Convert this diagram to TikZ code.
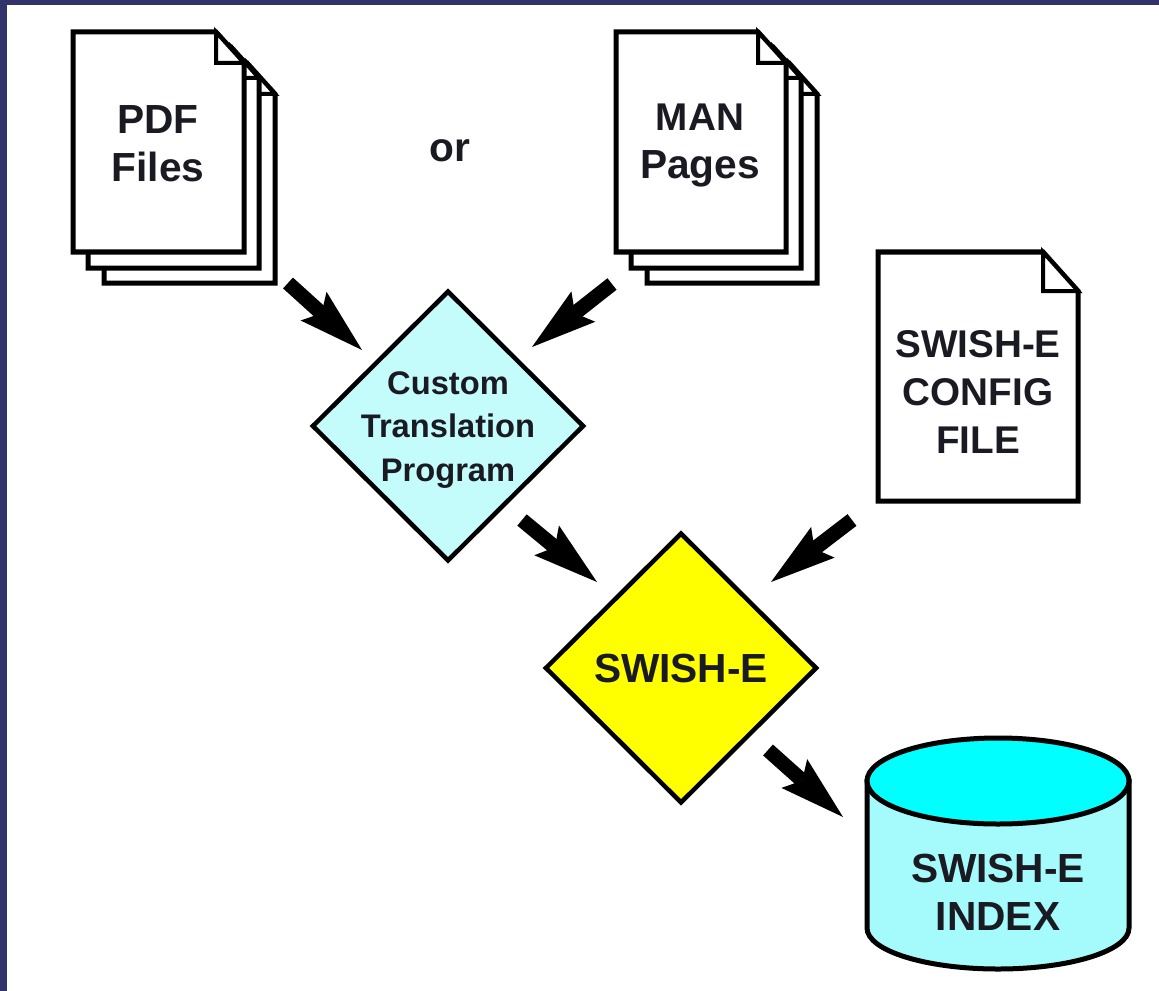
\documentclass[tikz,border=0pt]{standalone}
\usepackage{fontspec}
\setmainfont{Liberation Sans}
\usetikzlibrary{arrows.meta,shapes.geometric}
\definecolor{band}{HTML}{33336B}
\definecolor{ink}{HTML}{1A1A22}
\definecolor{paleblue}{HTML}{C4FBFB}
\definecolor{sw}{HTML}{FFFF00}
\definecolor{cylbody}{HTML}{A5FBFB}
\definecolor{cyltop}{HTML}{00FFFF}
\tikzset{
  outline/.style={draw=black,line width=3.75pt,line join=miter,fill=white},
  foldline/.style={draw=black,line width=3pt,fill=white},
  bigarrow/.style={line width=11pt,draw=black,-{Stealth[length=49pt,width=29pt,inset=8pt,line width=0pt]}},
  label/.style={font=\bfseries\fontsize{30.5}{36}\selectfont,text=ink,align=center,inner sep=0pt},
  cfglabel/.style={font=\bfseries\fontsize{29}{36}\selectfont,text=ink,align=center,inner sep=0pt},
  smalllabel/.style={font=\bfseries\fontsize{24.5}{32.5}\selectfont,text=ink,align=center,inner sep=0pt},
  decision/.style={shape=diamond,draw=black,line width=3.4pt,inner sep=0pt,minimum width=204pt,minimum height=203pt},
}
% page with folded corner: left, top, right, bottom, fold width, fold height
\newcommand{\docpage}[6]{%
  \path[outline] (#1,#2) -- ({#3-#5},#2) -- (#3,{#2+#6}) -- (#3,#4) -- (#1,#4) -- cycle;
  \path[foldline] ({#3-#5},#2) -- ({#3-#5},{#2+#6}) -- (#3,{#2+#6}) -- cycle;
}
\begin{document}
\begin{tikzpicture}[x=0.75pt,y=-0.75pt]
\useasboundingbox (0,0) rectangle (1159,991);
\fill[band] (0,0) rectangle (1159,991);
\fill[white] (7,5) rectangle (1159,991);

% PDF stack
\docpage{104}{63}{275}{283}{28}{31}
\docpage{88}{47}{259}{268}{28}{31}
\docpage{73}{32}{244}{252}{28}{31}
\node[label] (pdf) at (158,144) {PDF\\Files};

\node[label] (orword) at (450,151) {or};

% MAN stack
\docpage{647}{63}{817}{283}{28}{31}
\docpage{631}{47}{801}{268}{28}{31}
\docpage{616}{32}{786}{252}{28}{31}
\node[label] (man) at (700,146) {{\fontsize{29}{36}\selectfont MAN}\\Pages};

% config page
\docpage{878}{252}{1078}{501}{35}{39}
\node[cfglabel] (cfg) at (978,392) {SWISH-E\\CONFIG\\FILE};

% diamonds
\node[decision,fill=paleblue] (custom) at (448,426) {};
\node[smalllabel] (customtext) at (448,430) {Custom\\Translation\\Program};
\node[decision,fill=sw] (swish) at (681,668) {};
\node[label] (swishtext) at (681,668) {SWISH-E};

% cylinder
\path[draw=black,line width=3.75pt,fill=cylbody] (867,781) -- (867,928) arc[start angle=180,end angle=0,x radius=131,y radius=41] -- (1129,781) -- cycle;
\path[draw=black,line width=3.75pt,fill=cyltop] (998,781) ellipse[x radius=131,y radius=43];
\node[label] (index) at (998,892) {SWISH-E\\INDEX};

% arrow ends
\coordinate (a1s) at (288,283); \coordinate (a1e) at (362,350);
\coordinate (a2s) at (612,284); \coordinate (a2e) at (532,347);
\coordinate (a3s) at (522,520); \coordinate (a3e) at (597,582);
\coordinate (a4s) at (852,520); \coordinate (a4e) at (771,582);
\coordinate (a5s) at (768,750); \coordinate (a5e) at (843,817);
\draw[bigarrow] (a1s) -- (a1e);
\draw[bigarrow] (a2s) -- (a2e);
\draw[bigarrow] (a3s) -- (a3e);
\draw[bigarrow] (a4s) -- (a4e);
\draw[bigarrow] (a5s) -- (a5e);
\end{tikzpicture}
\end{document}
